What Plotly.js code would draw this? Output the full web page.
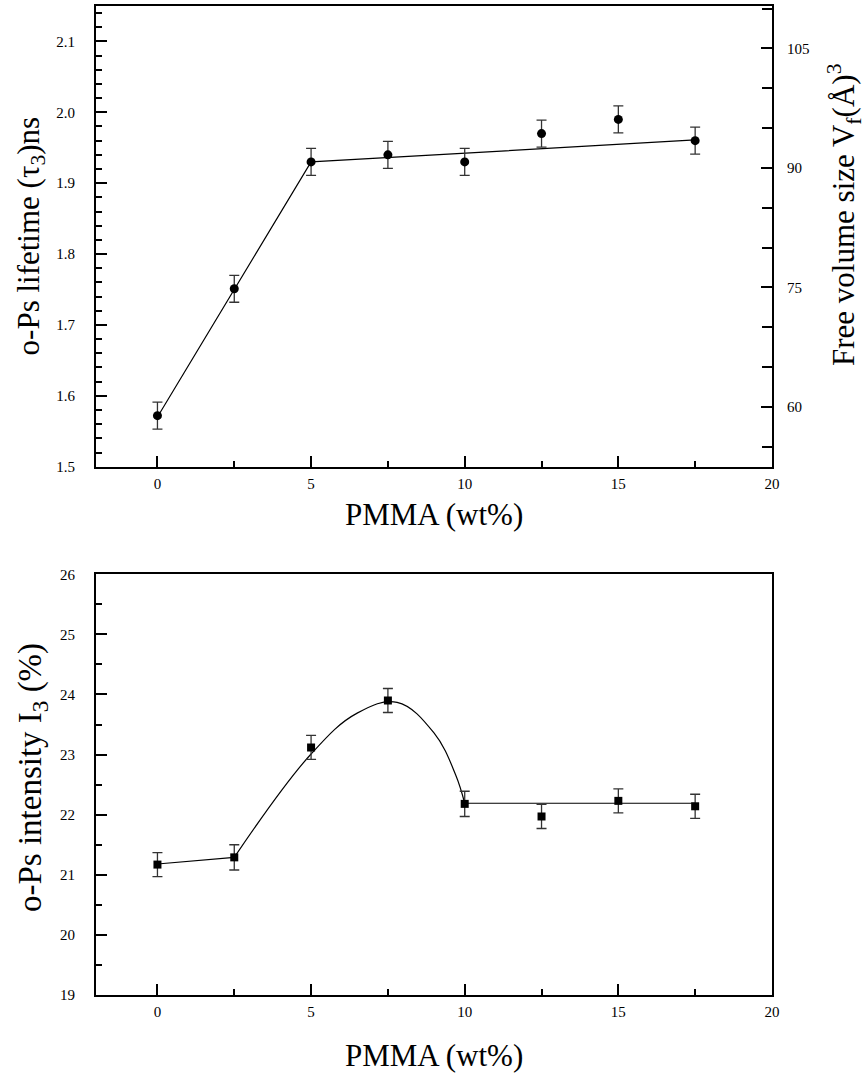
<!DOCTYPE html>
<html>
<head>
<meta charset="utf-8">
<script src="https://cdn.plot.ly/plotly-3.0.1.min.js"></script>
<style>html,body{margin:0;padding:0;background:#fff;}#chart{width:866px;height:1081px;}</style>
</head>
<body>
<div id="chart"></div>
<script>
// ---- data ----
const pmma = [0, 2.5, 5, 7.5, 10, 12.5, 15, 17.5];
const tau3 = [1.572, 1.751, 1.930, 1.940, 1.930, 1.970, 1.990, 1.960];
const tau3Err = [0.019, 0.019, 0.019, 0.019, 0.019, 0.019, 0.019, 0.019];
const tauFitX = [0, 5, 17.5];
const tauFitY = [1.57, 1.93, 1.961];

const i3 = [21.17, 21.29, 23.12, 23.90, 22.18, 21.97, 22.23, 22.14];
const i3Err = [0.20, 0.21, 0.20, 0.20, 0.21, 0.20, 0.20, 0.20];
const i3CurveX = [2.5, 5, 6.5, 7.8, 9, 9.7, 10];
const i3CurveY = [21.29, 23.01, 23.69, 23.87, 23.36, 22.67, 22.19];
const i3LineX = [0, 2.5, null, 10, 17.5];
const i3LineY = [21.18, 21.29, null, 22.19, 22.19];

const xTickVals = [0, 5, 10, 15, 20];
const tauTickVals = [1.5, 1.6, 1.7, 1.8, 1.9, 2.0, 2.1];
const vfTickVals = [60, 75, 90, 105];
const i3TickVals = [19, 20, 21, 22, 23, 24, 25, 26];

const texts = {
  xTitle: 'PMMA (wt%)',
  tauTitle: 'o-Ps lifetime (τ<sub>3</sub>)ns',
  vfTitle: 'Free volume size V<sub>f</sub>(Å)<sup>3</sup>',
  i3Title: 'o-Ps intensity I<sub>3</sub> (%)'
};

// ---- styles ----
const FONT = '"Liberation Serif", "Times New Roman", serif';
const tickFont = {family: FONT, size: 15, color: '#000'};
function tf(size) { return {family: FONT, size: size, color: '#000'}; }

function xAxis(anchor) {
  return {
    anchor: anchor, range: [-2, 20.001], tickmode: 'array', tickvals: xTickVals,
    ticks: 'inside', ticklen: 11, tickwidth: 2, tickcolor: '#000',
    minor: {dtick: 2.5, tick0: 0, ticks: 'inside', ticklen: 6, tickwidth: 2, tickcolor: '#000'},
    showline: true, linewidth: 2, linecolor: '#000', mirror: true,
    showgrid: false, zeroline: false, tickfont: tickFont, ticklabelstandoff: 2,
    fixedrange: true
  };
}

const traces = [
  {x: tauFitX, y: tauFitY, mode: 'lines', line: {color: '#000', width: 1.2},
   xaxis: 'x', yaxis: 'y', hoverinfo: 'skip', showlegend: false},
  {x: pmma, y: tau3, mode: 'markers', type: 'scatter',
   marker: {symbol: 'circle', size: 9, color: '#000'},
   error_y: {type: 'data', array: tau3Err, visible: true, color: '#333', thickness: 1.3, width: 5},
   xaxis: 'x', yaxis: 'y', showlegend: false},
  // carrier for the right-hand free-volume axis (no marks)
  {x: [null], y: [null], mode: 'markers', xaxis: 'x', yaxis: 'y2', hoverinfo: 'skip', showlegend: false},
  {x: i3LineX, y: i3LineY, mode: 'lines', line: {color: '#000', width: 1.2}, connectgaps: false,
   xaxis: 'x2', yaxis: 'y3', hoverinfo: 'skip', showlegend: false},
  {x: i3CurveX, y: i3CurveY, mode: 'lines', line: {color: '#000', width: 1.2, shape: 'spline', smoothing: 1.1},
   xaxis: 'x2', yaxis: 'y3', hoverinfo: 'skip', showlegend: false},
  {x: pmma, y: i3, mode: 'markers', type: 'scatter',
   marker: {symbol: 'square', size: 8, color: '#000'},
   error_y: {type: 'data', array: i3Err, visible: true, color: '#333', thickness: 1.3, width: 5},
   xaxis: 'x2', yaxis: 'y3', showlegend: false}
];

const layout = {
  width: 866, height: 1081,
  margin: {l: 96, r: 94, t: 6, b: 86},
  paper_bgcolor: '#fff', plot_bgcolor: '#fff',
  showlegend: false,
  xaxis: Object.assign(xAxis('y'), {domain: [0, 1]}),
  xaxis2: Object.assign(xAxis('y3'), {domain: [-0.0025, 1.001]}),
  yaxis: {
    anchor: 'x', domain: [0.5342, 1], range: [1.5, 2.15],
    tickmode: 'array', tickvals: tauTickVals, ticktext: tauTickVals.map(v => v.toFixed(1)),
    ticks: 'inside', ticklen: 11, tickwidth: 2, tickcolor: '#000',
    minor: {dtick: 0.02, tick0: 1.5, ticks: 'inside', ticklen: 6, tickwidth: 2, tickcolor: '#000'},
    showline: true, linewidth: 2, linecolor: '#000', mirror: false,
    showgrid: false, zeroline: false, tickfont: tickFont, ticklabelstandoff: 16, fixedrange: true
  },
  yaxis2: {
    overlaying: 'y', side: 'right', anchor: 'x', range: [52.5, 110.33],
    tickmode: 'array', tickvals: vfTickVals,
    ticks: 'inside', ticklen: 11, tickwidth: 2, tickcolor: '#000',
    minor: {dtick: 5, tick0: 0, ticks: 'inside', ticklen: 10, tickwidth: 2, tickcolor: '#000'},
    showline: true, linewidth: 2, linecolor: '#000',
    showgrid: false, zeroline: false, tickfont: tickFont, ticklabelstandoff: 10, fixedrange: true
  },
  yaxis3: {
    anchor: 'x2', domain: [0, 0.4254], range: [19, 26],
    tickmode: 'array', tickvals: i3TickVals,
    ticks: 'inside', ticklen: 11, tickwidth: 2, tickcolor: '#000',
    minor: {dtick: 0.5, tick0: 19, ticks: 'inside', ticklen: 6, tickwidth: 2, tickcolor: '#000'},
    showline: true, linewidth: 2, linecolor: '#000', mirror: true,
    showgrid: false, zeroline: false, tickfont: tickFont, ticklabelstandoff: 16, fixedrange: true
  },
  annotations: [
    {text: texts.xTitle, xref: 'paper', yref: 'paper', x: 0.5, y: 0.5342, yshift: -48,
     showarrow: false, font: tf(31), xanchor: 'center', yanchor: 'middle'},
    {text: texts.tauTitle, xref: 'paper', yref: 'paper', x: 0, xshift: -65, y: 0.767,
     showarrow: false, font: tf(31), textangle: -90, xanchor: 'center', yanchor: 'middle'},
    {text: texts.vfTitle, xref: 'paper', yref: 'paper', x: 1, xshift: 72, y: 0.7887,
     showarrow: false, font: tf(31), textangle: -90, xanchor: 'center', yanchor: 'middle'},
    {text: texts.xTitle, xref: 'paper', yref: 'paper', x: 0.5, y: 0, yshift: -60,
     showarrow: false, font: tf(31), xanchor: 'center', yanchor: 'middle'},
    {text: texts.i3Title, xref: 'paper', yref: 'paper', x: 0, xshift: -64, y: 0.2194,
     showarrow: false, font: tf(33), textangle: -90, xanchor: 'center', yanchor: 'middle'}
  ]
};

Plotly.newPlot('chart', traces, layout, {staticPlot: true, displayModeBar: false});
</script>
</body>
</html>
